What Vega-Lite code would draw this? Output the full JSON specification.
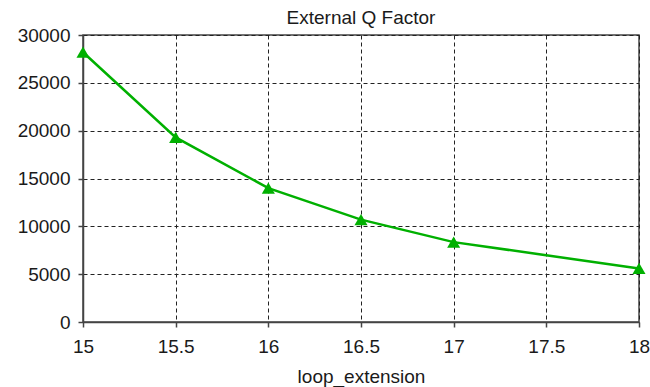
{
  "$schema": "https://vega.github.io/schema/vega-lite/v6.json",
  "autosize": "none",
  "width": 556,
  "height": 287,
  "padding": {"left": 83, "top": 35, "right": 11, "bottom": 65},
  "background": "white",
  "title": {
    "text": "External Q Factor",
    "font": "Liberation Sans",
    "fontSize": 19,
    "fontWeight": "normal",
    "color": "#1a1a1a",
    "anchor": "middle",
    "offset": 8,
    "dy": 10
  },
  "config": {
    "view": {"stroke": "#444444", "strokeWidth": 1.5},
    "axis": {
      "labelFont": "Liberation Sans",
      "labelFontSize": 19,
      "labelColor": "#1a1a1a",
      "titleFont": "Liberation Sans",
      "titleFontSize": 19,
      "titleFontWeight": "normal",
      "titleColor": "#1a1a1a",
      "domainColor": "#444444",
      "domainWidth": 1.5,
      "tickColor": "#444444",
      "tickSize": 5,
      "tickWidth": 1.5,
      "gridColor": "#222222",
      "gridDash": [4, 3],
      "gridWidth": 1,
      "gridOpacity": 1,
      "labelFlush": false,
      "labelOverlap": false
    }
  },
  "data": {
    "values": [
      {"loop_extension": 15, "Q": 28200},
      {"loop_extension": 15.5, "Q": 19300},
      {"loop_extension": 16, "Q": 14000},
      {"loop_extension": 16.5, "Q": 10700},
      {"loop_extension": 17, "Q": 8350},
      {"loop_extension": 18, "Q": 5600}
    ]
  },
  "mark": {
    "type": "line",
    "color": "#00b000",
    "strokeWidth": 2.5,
    "point": {"shape": "triangle-up", "filled": true, "size": 170, "color": "#00b000", "opacity": 1}
  },
  "encoding": {
    "x": {
      "field": "loop_extension",
      "type": "quantitative",
      "scale": {"domain": [15, 18], "nice": false, "zero": false},
      "axis": {
        "values": [15, 15.5, 16, 16.5, 17, 17.5, 18],
        "format": "~g",
        "labelPadding": 10,
        "title": "loop_extension",
        "titleY": 60,
        "titleBaseline": "alphabetic"
      }
    },
    "y": {
      "field": "Q",
      "type": "quantitative",
      "scale": {"domain": [0, 30000], "nice": false},
      "axis": {
        "values": [0, 5000, 10000, 15000, 20000, 25000, 30000],
        "format": "d",
        "labelPadding": 8,
        "title": null
      }
    }
  }
}
